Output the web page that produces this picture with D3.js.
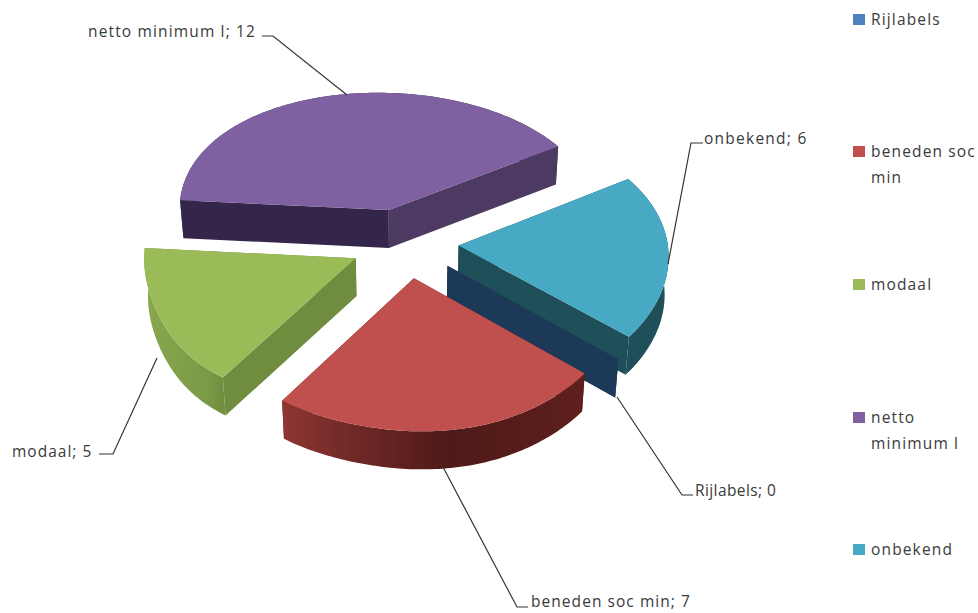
<!DOCTYPE html>
<html><head><meta charset="utf-8">
<script src="https://cdn.jsdelivr.net/npm/d3@7/dist/d3.min.js"></script>
<style>html,body{margin:0;padding:0;background:#fff}svg{display:block}
text{font-family:"Open Sans",sans-serif;fill:#3a3a3a}</style></head>
<body><div id="chart"></div>
<script>
const categories = ["Rijlabels","beneden soc min","modaal","netto minimum l","onbekend"];
const values = [0,7,5,12,6];
const legendLines = [["Rijlabels"],["beneden soc","min"],["modaal"],["netto","minimum l"],["onbekend"]];
const topColors = ["#4F81BD","#C0504D","#9BBB59","#7F60A0","#47A9C4"];
const startWallColors = ["#1C3A57","#5A1F1C","#6F8C3F","#33264A","#1F4F58"];
const endWallColors = ["#1C3A57","#5A1F1C","#6F8C3F","#4D3A62","#1F4F58"];

const W=978,H=613;
const svg=d3.select("#chart").append("svg").attr("width",W).attr("height",H);
const defs=svg.append("defs");
const cx=404,cy=243,explode=.26,depth=38,rad=Math.PI/180;
const proj=(X,Y)=>[cx+(210*X-6*Y)/(1-.03*Y), cy+(10*X+133*Y)/(1-.09*Y)];
const lower=p=>[cx+(p[0]-cx)*.985,p[1]+depth];
const bump=t=>Math.exp(-Math.pow((t-210*rad)/(28*rad),2));
const line=d3.line();
const pie=d3.pie().sort(null).startAngle(126*rad).endAngle(486*rad);
const arcs=pie(values);

function grad(id,x1,x2,stops){
  const g=defs.append("linearGradient").attr("id",id).attr("gradientUnits","userSpaceOnUse")
    .attr("x1",x1).attr("x2",x2).attr("y1",0).attr("y2",0);
  stops.forEach(s=>g.append("stop").attr("offset",s[0]).attr("stop-color",s[1]));
}
grad("gRed",282,586,[[0,"#8E3633"],[.25,"#6E2826"],[.55,"#4E1A18"],[1,"#5E201D"]]);
grad("gGreen",145,226,[[0,"#88A74E"],[.75,"#7C9A47"],[1,"#6F8C3F"]]);
const outerFill={0:"#1C3A57",1:"url(#gRed)",2:"url(#gGreen)",3:"#33264A",4:"#1F4F58"};

function slicePts(d){
  const m=(d.startAngle+d.endAngle)/2;
  const ox=explode*Math.sin(m), oy=-explode*Math.cos(m);
  const P=(r,t)=>{
    const p=proj(ox+r*Math.sin(t),oy-r*Math.cos(t));
    const k=r*bump(t);
    return [p[0]-18*k,p[1]-3*k];
  };
  const n=Math.max(1,Math.ceil((d.endAngle-d.startAngle)/(1*rad)));
  const rim=d3.range(n+1).map(i=>P(1,d.startAngle+(d.endAngle-d.startAngle)*i/n));
  return {apex:P(0,0),rim,back:Math.cos(m)>0};
}
// painter's order: back to front
const order=[3,4,0,2,1];
const g=svg.append("g");
order.forEach(i=>{
  const s=slicePts(arcs[i]);
  const a=s.apex,r0=s.rim[0],r1=s.rim[s.rim.length-1];
  const quad=(p,q,c)=>g.append("path").attr("d",line([p,q,lower(q),lower(p)])+"Z").attr("fill",c);
  const outer=()=>g.append("path").attr("d",line(s.rim.concat(s.rim.map(lower).reverse()))+"Z").attr("fill",outerFill[i]);
  if(s.back) outer();
  quad(a,r0,startWallColors[i]);
  quad(a,r1,endWallColors[i]);
  if(!s.back) outer();
  if(values[i]>0) g.append("path").attr("d",line([a].concat(s.rim))+"Z").attr("fill",topColors[i]);
});

// leader lines and data labels (layout)
const leaders=[
 {i:3,pts:[[347,95],[273,36],[262,36]],tx:88,ty:37,ls:1.15},
 {i:4,pts:[[668,264],[691,143],[703,143]],tx:704,ty:144,ls:1.25},
 {i:2,pts:[[157,358],[113,454],[99,454]],tx:12,ty:457,ls:1},
 {i:0,pts:[[617,397],[682,495],[693,495]],tx:695,ty:496,ls:.4},
 {i:1,pts:[[443,467],[517,607],[528,607]],tx:531,ty:607,ls:1.05}
];
leaders.forEach(l=>{
  svg.append("path").attr("d",line(l.pts)).attr("fill","none").attr("stroke","#333").attr("stroke-width",1.2);
  svg.append("text").attr("x",l.tx).attr("y",l.ty).attr("font-size",15.5).attr("letter-spacing",l.ls)
    .text(categories[l.i]+"; "+values[l.i]);
});

// legend
const legendY=[25,157,290,423,555];
const leg=svg.append("g");
categories.forEach((c,i)=>{
  leg.append("rect").attr("x",853).attr("y",legendY[i]-11).attr("width",12).attr("height",11).attr("fill",topColors[i]);
  legendLines[i].forEach((t,j)=>{
    leg.append("text").attr("x",871).attr("y",legendY[i]+j*26).attr("font-size",15.5).attr("letter-spacing",1.15).text(t);
  });
});
</script></body></html>
